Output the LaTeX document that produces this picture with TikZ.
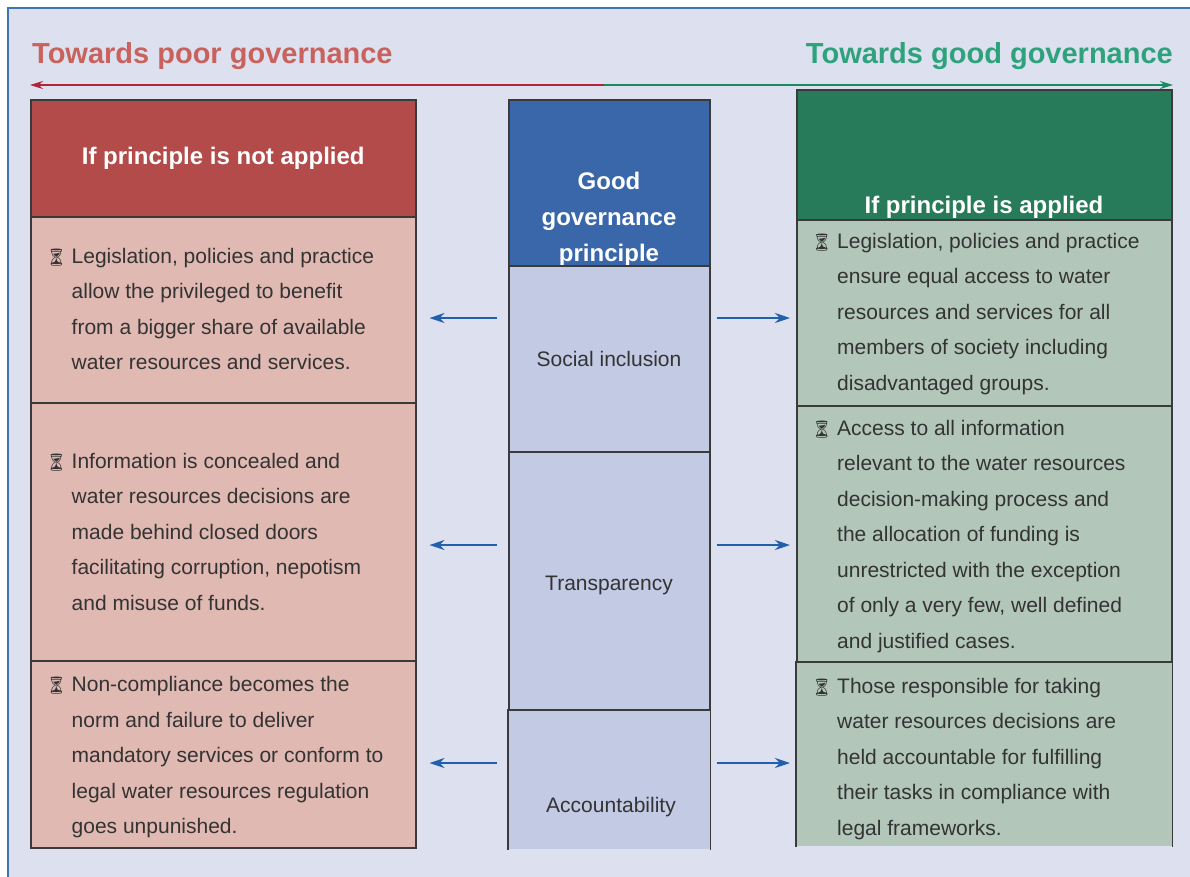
\documentclass[tikz,border=0pt]{standalone}
\usepackage{fontspec}
\setmainfont{Liberation Sans}
\newfontfamily\symfont{Noto Emoji}
\usetikzlibrary{arrows.meta,positioning}

\definecolor{panelbg}{HTML}{DDE0EF}
\definecolor{framecol}{HTML}{3A75BD}
\definecolor{edgecol}{HTML}{3A3A3A}
\definecolor{poorhead}{HTML}{B34B4A}
\definecolor{poorbody}{HTML}{E1B9B3}
\definecolor{midhead}{HTML}{3A67A9}
\definecolor{midbody}{HTML}{C3CAE3}
\definecolor{goodhead}{HTML}{277A5A}
\definecolor{goodbody}{HTML}{B2C7B9}
\definecolor{textcol}{HTML}{333333}
\definecolor{poortitle}{HTML}{C9625C}
\definecolor{goodtitle}{HTML}{2EA27C}
\definecolor{poorline}{HTML}{B3243B}
\definecolor{goodline}{HTML}{1B8A63}
\definecolor{flowcol}{HTML}{2160AB}

\newcommand\bodyfont{\fontsize{21}{35.5}\selectfont}
\newcommand\headfont{\fontsize{24}{36}\selectfont\bfseries}
\newcommand\hglass{\llap{\makebox[26pt][l]{\symfont\fontsize{17}{17}\selectfont ⏳}}}

\begin{document}
\begin{tikzpicture}[
    x=1pt, y=-1pt,
    cell/.style={draw=edgecol, line width=1.5pt, anchor=north west, inner sep=0},
    poorcell/.style={cell, fill=poorbody, minimum width=385pt},
    midcell/.style={cell, fill=midbody, minimum width=201pt},
    goodcell/.style={cell, fill=goodbody, minimum width=375pt},
    headtext/.style={text=white, font=\headfont, align=center},
    bodytext/.style={text=textcol, font=\bodyfont, align=left, anchor=base west, inner sep=0},
    midtext/.style={text=textcol, font=\bodyfont, anchor=base, inner sep=0},
    title/.style={font=\fontsize{29}{34}\selectfont\bfseries, anchor=base, inner sep=0},
    flow/.style={draw=flowcol, line width=1.8pt, -{Stealth[length=15pt,width=10pt]}},
    trend/.style={line width=1.8pt, -{Stealth[length=13pt,width=8pt]}}
  ]
  \useasboundingbox (0,0) rectangle (1190,876);
  \fill[white] (0,0) rectangle (1190,876);
  \draw[fill=panelbg, draw=framecol, line width=1.5pt] (8,8) rectangle (1200,890);

  \node[title, text=poortitle, anchor=base west] (poor) at (32,63) {Towards poor governance};
  \node[title, text=goodtitle, anchor=base east] (good) at (1173,63) {Towards good governance};
  \coordinate (poorend) at (30,85);
  \coordinate (goodend) at (1173,85);
  \coordinate (turn) at (604,85);
  \draw[trend, draw=poorline] (turn) -- (poorend);
  \draw[trend, draw=goodline] (turn) -- (goodend);

  % left column
  \node[poorcell, fill=poorhead, minimum height=117pt, headtext] (poorhd) at (30,99) {If principle is not applied};
  \node[poorcell, minimum height=186pt] (poor1) at (30,216) {};
  \node[poorcell, minimum height=258pt] (poor2) at (30,402) {};
  \node[poorcell, minimum height=187pt] (poor3) at (30,660) {};

  % middle column
  \node[midcell, fill=midhead, minimum height=166pt] (midhd) at (508,99) {};
  \node[headtext, anchor=base] (midtitle) at (609,261) {Good\\governance\\principle};
  \node[midcell, minimum height=186pt] (soc) at (508,265) {};
  \node[midcell, minimum height=259pt] (tra) at (508,451) {};
  \node[midcell, draw=none, minimum height=138pt] (acc) at (508,710) {};
  \draw[edgecol, line width=1.5pt] (acc.south west) -- (acc.north west) -- (acc.north east) -- (acc.south east);
  \node[midtext] (soclabel) at (609,366) {Social inclusion};
  \node[midtext] (tralabel) at (609,590) {Transparency};
  \node[midtext] (acclabel) at (611,812) {Accountability};

  % right column
  \node[goodcell, fill=goodhead, minimum height=130pt] (goodhd) at (796,89) {};
  \node[headtext, anchor=base] (goodtitle) at (984,213) {If principle is applied};
  \node[goodcell, minimum height=186pt] (good1) at (796,219) {};
  \node[goodcell, minimum height=257pt] (good2) at (796,405) {};
  \node[goodcell, draw=none, minimum height=183pt] (good3) at (796,662) {};
  \draw[edgecol, line width=1.5pt] (good3.south west) -- (good3.north west) -- (good3.north east) -- (good3.south east);

  \node[bodytext] (poortext1) at (71.5,369.5) {\hglass Legislation, policies and practice\\allow the privileged to benefit\\from a bigger share of available\\water resources and services.};
  \node[bodytext] (poortext2) at (71.5,610) {\hglass Information is concealed and\\water resources decisions are\\made behind closed doors\\facilitating corruption, nepotism\\and misuse of funds.};
  \node[bodytext] (poortext3) at (71.5,833.5) {\hglass Non-compliance becomes the\\norm and failure to deliver\\mandatory services or conform to\\legal water resources regulation\\goes unpunished.};
  \node[bodytext] (goodtext1) at (837,390) {\hglass Legislation, policies and practice\\ensure equal access to water\\resources and services for all\\members of society including\\disadvantaged groups.};
  \node[bodytext] (goodtext2) at (837,648) {\hglass Access to all information\\relevant to the water resources\\decision-making process and\\the allocation of funding is\\unrestricted with the exception\\of only a very few, well defined\\and justified cases.};
  \node[bodytext] (goodtext3) at (837,835) {\hglass Those responsible for taking\\water resources decisions are\\held accountable for fulfilling\\their tasks in compliance with\\legal frameworks.};

  \coordinate (row1) at (0,318);
  \coordinate (row2) at (0,545);
  \coordinate (row3) at (0,763);
  \draw[flow, shorten <=11pt, shorten >=13pt] (soc.west |- row1) -- (poor1.east |- row1);
  \draw[flow, shorten <=11pt, shorten >=13pt] (tra.west |- row2) -- (poor2.east |- row2);
  \draw[flow, shorten <=11pt, shorten >=13pt] (acc.west |- row3) -- (poor3.east |- row3);
  \draw[flow, shorten <=6pt, shorten >=6pt] (soc.east |- row1) -- (good1.west |- row1);
  \draw[flow, shorten <=6pt, shorten >=6pt] (tra.east |- row2) -- (good2.west |- row2);
  \draw[flow, shorten <=6pt, shorten >=6pt] (acc.east |- row3) -- (good3.west |- row3);
\end{tikzpicture}
\end{document}
